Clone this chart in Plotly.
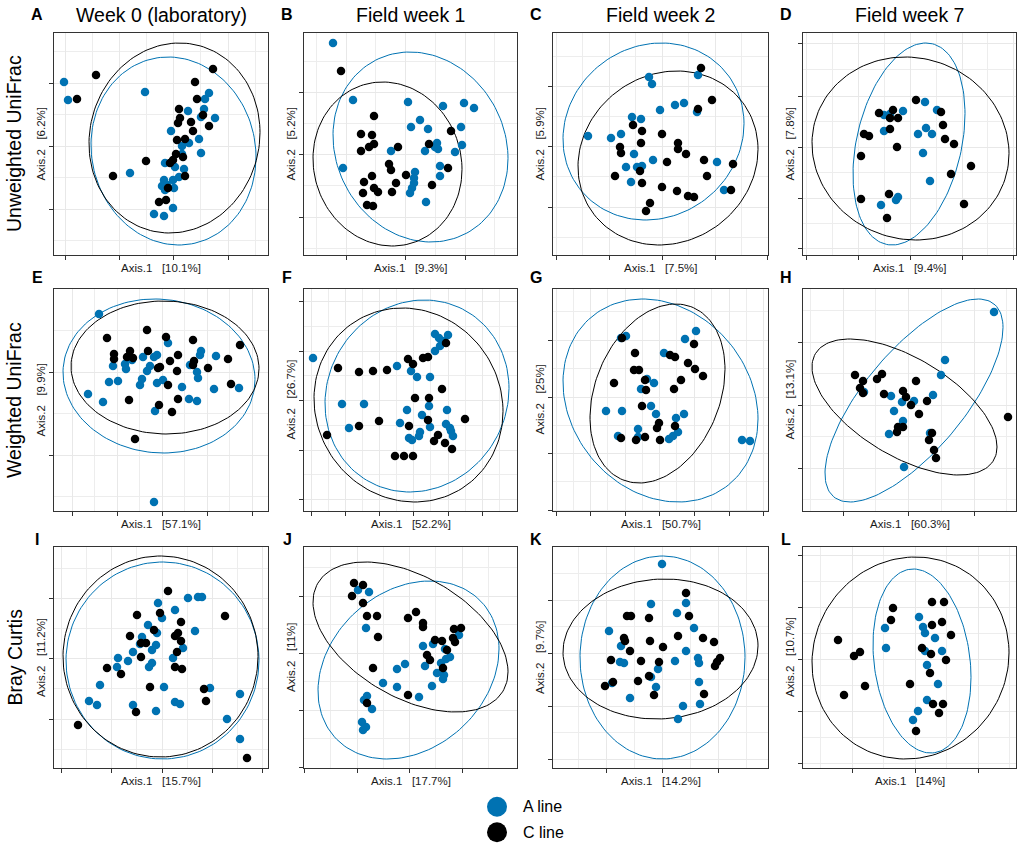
import numpy as np
import plotly.graph_objects as go

W, H = 1021, 846
BLUE = "#0072B2"
BLACK = "#000000"
FONT = "Liberation Sans, Arial, Helvetica, sans-serif"

col_titles = ["Week 0 (laboratory)", "Field week 1", "Field week 2", "Field week 7"]
row_titles = ["Unweighted UniFrac", "Weighted UniFrac", "Bray Curtis"]
panel_letters = list("ABCDEFGHIJKL")
axis1_pct = ["10.1%", "9.3%", "7.5%", "9.4%", "57.1%", "52.2%", "50.7%", "60.3%",
             "15.7%", "17.7%", "14.2%", "14%"]
axis2_pct = ["6.2%", "5.2%", "5.9%", "7.8%", "9.9%", "26.7%", "25%", "13.1%",
             "11.2%", "11%", "9.7%", "10.7%"]
legend_labels = ["A line", "C line"]

# sample positions (pixel units of the original figure)
A_aline = [(64, 82), (68, 100), (145, 92), (209, 93), (205, 99), (204, 109), (188, 111), (215, 118),
           (201, 117), (171, 131), (199, 139), (189, 143), (182, 146), (182, 154), (201, 153), (165, 163),
           (175, 167), (184, 169), (130, 173), (179, 177), (164, 180), (162, 186), (167, 185), (173, 180),
           (174, 188), (165, 190), (173, 208), (154, 214), (164, 216)]
A_cline = [(96, 75), (77, 99), (213, 69), (195, 82), (197, 99), (179, 109), (180, 118), (203, 115),
           (178, 123), (191, 122), (209, 126), (193, 131), (177, 140), (185, 139), (176, 154), (183, 157),
           (146, 161), (170, 163), (173, 160), (113, 176), (185, 176), (168, 188), (159, 202), (166, 200)]
B_aline = [(333, 43), (353, 100), (343, 168), (408, 102), (443, 106), (464, 103), (474, 108), (420, 120),
           (411, 127), (428, 129), (461, 127), (391, 151), (437, 143), (435, 147), (425, 151), (438, 149),
           (462, 145), (455, 152), (440, 166), (440, 176), (415, 172), (414, 178), (414, 183), (412, 188),
           (410, 193), (426, 202)]
B_cline = [(341, 71), (374, 116), (361, 134), (372, 135), (374, 144), (369, 147), (361, 151), (398, 147),
           (429, 144), (451, 131), (448, 168), (389, 164), (391, 170), (372, 176), (364, 182), (406, 175),
           (396, 183), (432, 185), (374, 188), (378, 192), (363, 193), (392, 192), (367, 205), (373, 206)]
C_aline = [(588, 136), (611, 138), (621, 134), (649, 77), (652, 84), (632, 117), (641, 119), (660, 110),
           (675, 105), (684, 103), (697, 112), (698, 75), (634, 154), (653, 160), (626, 167), (637, 167),
           (642, 166), (631, 182), (717, 162), (724, 190)]
C_cline = [(701, 68), (712, 100), (698, 109), (633, 125), (642, 131), (662, 134), (641, 143), (620, 147),
           (621, 153), (678, 143), (678, 149), (686, 154), (667, 162), (704, 160), (733, 164), (615, 176),
           (640, 171), (707, 176), (642, 183), (662, 187), (677, 191), (688, 196), (694, 197), (731, 190),
           (650, 203), (646, 211)]
D_aline = [(925, 102), (937, 110), (903, 111), (884, 115), (890, 114), (884, 131), (926, 128), (918, 134),
           (932, 134), (923, 153), (930, 181), (898, 197), (896, 200), (881, 205)]
D_cline = [(916, 100), (879, 113), (893, 110), (890, 118), (898, 118), (941, 112), (943, 125), (890, 129),
           (864, 134), (869, 136), (945, 139), (954, 144), (897, 147), (861, 156), (971, 166), (951, 174),
           (861, 199), (889, 194), (964, 204), (887, 218)]
E_aline = [(99, 314), (88, 394), (103, 402), (109, 382), (118, 381), (113, 366), (125, 364), (126, 369),
           (132, 360), (140, 385), (142, 379), (143, 357), (147, 371), (150, 366), (154, 357), (157, 355),
           (157, 383), (163, 380), (168, 343), (182, 387), (190, 365), (197, 372), (198, 378), (200, 355),
           (201, 351), (189, 399), (197, 401), (155, 411), (214, 389), (216, 356), (239, 388), (154, 502)]
E_cline = [(107, 338), (147, 330), (166, 337), (193, 340), (240, 345), (114, 354), (114, 359), (130, 351),
           (127, 357), (133, 358), (148, 351), (178, 355), (170, 361), (194, 361), (193, 365), (158, 368),
           (160, 367), (177, 371), (208, 368), (228, 359), (168, 385), (231, 384), (129, 400), (178, 399),
           (159, 405), (172, 412), (135, 439)]
F_aline = [(313, 358), (397, 366), (411, 371), (417, 377), (430, 377), (435, 334), (439, 338), (448, 335),
           (443, 341), (440, 346), (435, 351), (342, 404), (364, 404), (407, 410), (422, 415), (429, 406),
           (447, 410), (349, 428), (400, 423), (430, 427), (446, 424), (450, 428), (451, 431), (453, 436),
           (420, 432), (419, 436), (409, 438), (412, 440)]
F_cline = [(338, 368), (359, 372), (373, 371), (387, 370), (408, 359), (413, 364), (423, 358), (428, 357),
           (446, 343), (442, 389), (415, 398), (429, 398), (379, 421), (359, 426), (428, 420), (409, 426),
           (465, 419), (327, 435), (434, 441), (438, 435), (445, 443), (452, 449), (395, 456), (404, 456),
           (413, 456)]
G_aline = [(626, 336), (621, 338), (664, 353), (685, 339), (696, 331), (641, 389), (647, 379), (654, 383),
           (606, 411), (622, 411), (651, 406), (656, 414), (676, 418), (684, 414), (638, 429), (638, 437),
           (618, 436), (669, 439), (673, 436), (678, 432), (742, 440), (750, 441)]
G_cline = [(622, 338), (635, 353), (670, 355), (675, 357), (694, 344), (688, 363), (695, 369), (703, 376),
           (634, 370), (639, 370), (645, 380), (681, 380), (614, 383), (646, 390), (674, 389), (642, 406),
           (659, 423), (657, 428), (675, 426), (621, 438), (636, 440), (645, 437), (660, 440)]
H_aline = [(994, 312), (945, 360), (941, 375), (933, 395), (864, 392), (891, 396), (902, 402), (914, 401),
           (894, 411), (903, 421), (889, 434), (930, 433), (904, 467)]
H_cline = [(855, 375), (863, 381), (877, 379), (882, 374), (860, 388), (863, 393), (884, 394), (903, 391),
           (906, 397), (911, 405), (916, 381), (927, 401), (919, 414), (898, 427), (903, 427), (897, 432),
           (932, 433), (929, 440), (934, 450), (936, 458), (1008, 417)]
I_aline = [(158, 603), (175, 610), (162, 618), (188, 598), (198, 597), (202, 597), (148, 625), (157, 633),
           (142, 637), (140, 644), (133, 652), (156, 645), (152, 650), (118, 658), (117, 667), (128, 661),
           (152, 663), (149, 667), (173, 658), (183, 648), (195, 631), (100, 685), (164, 687), (210, 688),
           (89, 701), (97, 705), (133, 705), (156, 711), (175, 702), (180, 704), (240, 694), (227, 719),
           (240, 739)]
I_cline = [(168, 591), (137, 615), (160, 613), (181, 622), (225, 616), (154, 630), (178, 633), (175, 636),
           (181, 641), (130, 636), (141, 643), (146, 643), (177, 652), (141, 657), (107, 668), (121, 674),
           (175, 667), (182, 669), (150, 687), (204, 689), (206, 701), (136, 712), (78, 725), (247, 758)]
J_aline = [(358, 590), (369, 592), (366, 628), (459, 635), (423, 646), (433, 644), (445, 649), (450, 657),
           (446, 659), (441, 663), (425, 666), (405, 664), (397, 669), (437, 673), (444, 675), (443, 679),
           (432, 686), (383, 683), (397, 687), (419, 697), (367, 696), (364, 700), (372, 709), (362, 722),
           (366, 727), (363, 730)]
J_cline = [(354, 583), (363, 585), (352, 596), (363, 603), (367, 616), (377, 616), (416, 612), (408, 618),
           (423, 623), (423, 627), (378, 637), (454, 629), (461, 628), (453, 638), (455, 642), (435, 640),
           (442, 641), (447, 650), (427, 655), (430, 660), (443, 668), (373, 668), (408, 695), (367, 703)]
K_aline = [(662, 564), (651, 604), (686, 603), (677, 613), (609, 631), (694, 628), (621, 646), (686, 651),
           (620, 662), (624, 663), (675, 661), (698, 658), (699, 663), (658, 669), (651, 677), (656, 687),
           (699, 682), (612, 683), (630, 698), (683, 706), (700, 704), (678, 719)]
K_cline = [(686, 593), (627, 616), (631, 616), (649, 618), (689, 616), (624, 638), (625, 641), (678, 636),
           (703, 638), (714, 642), (650, 641), (663, 647), (630, 651), (611, 660), (641, 661), (659, 662),
           (720, 658), (717, 662), (715, 666), (649, 676), (638, 681), (605, 686), (613, 682), (654, 695),
           (704, 694)]
L_aline = [(919, 617), (923, 627), (925, 633), (935, 638), (885, 628), (886, 648), (925, 651), (942, 651),
           (927, 665), (938, 684), (927, 700), (918, 711), (913, 720)]
L_cline = [(932, 602), (944, 602), (893, 608), (891, 620), (932, 625), (942, 622), (951, 635), (838, 640),
           (854, 656), (860, 652), (922, 648), (931, 654), (946, 660), (930, 673), (910, 684), (865, 686),
           (844, 695), (933, 704), (943, 704), (939, 713), (916, 731)]

# 95% ellipses: centre x, centre y, half width, half height, x-y coupling
ell_aline = [(173.5, 151, 82.5, 94, 500), (420.5, 147, 87.5, 95, 1000), (653.5, 131.5, 90.5, 88.5, -700),
             (909, 144, 56, 101, -1700), (159, 376, 96, 77, 340), (417, 396, 92, 96, -700),
             (660.5, 400.5, 97.5, 101.5, 1800), (914, 400.5, 89, 101.5, -6500), (162.5, 660.5, 96.5, 98.5, 0),
             (408.5, 670, 90.5, 89, -1900), (662.5, 657.5, 82.5, 101.5, 0), (922, 661, 49, 92, 800)]
ell_cline = [(174.5, 138, 85.5, 95, -470), (387.5, 164, 74.5, 82, 400), (668, 158, 90, 87, -780),
             (910.5, 148.5, 98.5, 91.5, 500), (165, 367.5, 94, 66.5, 100), (408.5, 405, 94.5, 97, 600),
             (657.5, 393.5, 67.5, 89.5, -1630), (904.5, 407, 92.5, 68, 3700), (160.5, 656.5, 97.5, 100.5, 0),
             (410.5, 637, 97.5, 75, 3400), (660.5, 649, 97.5, 70, -300), (910.5, 658, 98.5, 101, -500)]

# axis breaks
xticks = [[65, 119, 173, 228], [346, 405, 465], [556, 609, 662, 715, 767], [806, 858, 910, 962, 1013],
          [72, 117, 162, 207, 252], [311, 345, 379, 413, 448, 482], [556, 590, 625, 659, 694, 729, 763],
          [843, 908, 974],
          [61, 111, 162, 212, 262], [304, 357, 409, 462], [606, 662, 718], [852, 915, 978]]
yticks = [[83, 146, 209], [92, 154, 217], [86, 146, 207], [43, 96, 147, 198, 248],
          [372, 455], [301, 351, 400, 450, 499], [340, 397, 453, 510], [342, 405, 468],
          [598, 658, 719], [596, 653, 710, 767], [600, 653, 706, 759], [555, 607, 659, 711, 763]]

aline_pts = [A_aline, B_aline, C_aline, D_aline, E_aline, F_aline, G_aline, H_aline,
             I_aline, J_aline, K_aline, L_aline]
cline_pts = [A_cline, B_cline, C_cline, D_cline, E_cline, F_cline, G_cline, H_cline,
             I_cline, J_cline, K_cline, L_cline]

# panel boxes (pixels)
col_left = [54, 304, 553, 803]
col_right = [268, 517, 768, 1016]
row_top = [33, 289, 547]
row_bottom = [255, 511, 768]
letter_y = [14, 277, 539]


def ellipse(cx, cy, w, h, c, n=150):
    t = np.linspace(0, 2 * np.pi, n)
    k = c / w
    return cx + w * np.cos(t), cy + k * np.cos(t) + np.sqrt(h * h - k * k) * np.sin(t)


def minor_vals(ticks, lo, hi):
    vals = [(a + b) / 2 for a, b in zip(ticks[:-1], ticks[1:])]
    if len(ticks) > 1:
        d = ticks[1] - ticks[0]
        vals = [ticks[0] - d / 2] + vals + [ticks[-1] + d / 2]
    lo, hi = min(lo, hi), max(lo, hi)
    return [v for v in vals if lo < v < hi]


def px(x):
    return x / W


def py(y):
    return 1 - y / H


fig = go.Figure()
annotations = []
axis_common = dict(showticklabels=False, ticks="outside", ticklen=4, tickwidth=1, tickcolor="#333333",
                   showline=True, mirror=True, linecolor="#333333", linewidth=1, zeroline=False,
                   showgrid=True, gridcolor="#E8E8E8", gridwidth=1.1, fixedrange=True)

for k in range(12):
    r, c = divmod(k, 4)
    left, right, top, bottom = col_left[c], col_right[c], row_top[r], row_bottom[r]
    n = "" if k == 0 else str(k + 1)
    xa, ya = "x" + n, "y" + n

    for params, col in [(ell_aline[k], BLUE), (ell_cline[k], BLACK)]:
        ex, ey = ellipse(*params)
        fig.add_trace(go.Scatter(x=ex, y=ey, mode="lines", line=dict(color=col, width=1),
                                 xaxis=xa, yaxis=ya, showlegend=False, hoverinfo="skip"))
    for pts, col, name in [(aline_pts[k], BLUE, legend_labels[0]), (cline_pts[k], BLACK, legend_labels[1])]:
        fig.add_trace(go.Scatter(x=[p[0] for p in pts], y=[p[1] for p in pts], mode="markers",
                                 marker=dict(color=col, size=8.5, line=dict(width=0)),
                                 name=name, xaxis=xa, yaxis=ya, showlegend=False))

    fig.layout["xaxis" + n] = dict(axis_common, domain=[px(left), px(right)], range=[left, right],
                                   anchor=ya, tickvals=xticks[k],
                                   minor=dict(tickmode="array", tickvals=minor_vals(xticks[k], left, right),
                                              showgrid=True, gridcolor="#EDEDED", gridwidth=0.7))
    fig.layout["yaxis" + n] = dict(axis_common, domain=[py(bottom), py(top)], range=[bottom, top],
                                   anchor=xa, tickvals=yticks[k],
                                   minor=dict(tickmode="array", tickvals=minor_vals(yticks[k], top, bottom),
                                              showgrid=True, gridcolor="#EDEDED", gridwidth=0.7))

    cx, cy = (left + right) / 2, (top + bottom) / 2
    annotations.append(dict(text="<b>%s</b>" % panel_letters[k], x=px(left - 17), y=py(letter_y[r]),
                            font=dict(size=16, color="black")))
    annotations.append(dict(text="Axis.1   [%s]" % axis1_pct[k], x=px(cx), y=py(bottom + 13),
                            font=dict(size=11.5, color="#1a1a1a")))
    annotations.append(dict(text="Axis.2   [%s]" % axis2_pct[k], x=px(left - 13.5), y=py(cy),
                            textangle=-90, font=dict(size=11.5, color="#1a1a1a")))
    if r == 0:
        annotations.append(dict(text=col_titles[c], x=px(cx), y=py(15), font=dict(size=19.5, color="black")))
    if c == 0:
        annotations.append(dict(text=row_titles[r], x=px(14), y=py(cy), textangle=-90,
                                font=dict(size=19.5, color="black")))

# legend drawn on its own small axis
fig.add_trace(go.Scatter(x=[0, 0], y=legend_labels, mode="markers", xaxis="x13", yaxis="y13",
                         marker=dict(color=[BLUE, BLACK], size=20), showlegend=False,
                         hoverinfo="skip", cliponaxis=False))
fig.layout["xaxis13"] = dict(domain=[px(487), px(507)], range=[-1, 1], visible=False, anchor="y13")
fig.layout["yaxis13"] = dict(domain=[py(845), py(794)], range=[1.5, -0.5], visible=False, anchor="x13",
                             type="category")
for i, lab in enumerate(legend_labels):
    annotations.append(dict(text=lab, x=px(521), y=py(806.5 + 25.5 * i), xanchor="left",
                            font=dict(size=16, color="black")))

for a in annotations:
    a.update(xref="paper", yref="paper", showarrow=False)
    a.setdefault("xanchor", "center")
    a.setdefault("yanchor", "middle")

fig.update_layout(width=W, height=H, margin=dict(l=0, r=0, t=0, b=0),
                  paper_bgcolor="white", plot_bgcolor="white",
                  font=dict(family=FONT, color="black"),
                  annotations=annotations, showlegend=False)

fig.write_html("out.html", config={"displayModeBar": False},
               post_script="document.body.style.margin='0px';")
